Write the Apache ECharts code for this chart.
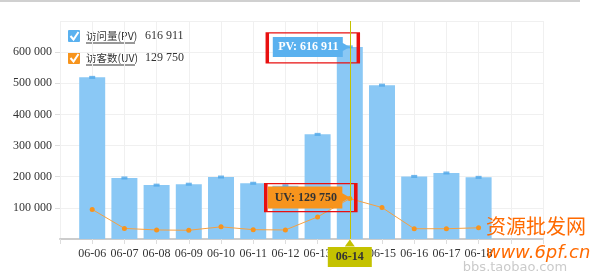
<!DOCTYPE html>
<html><head><meta charset="utf-8">
<script src="https://cdn.jsdelivr.net/npm/echarts@6/dist/echarts.min.js"></script>
<style>html,body{margin:0;padding:0;background:#fff}#c{width:600px;height:275px}</style>
</head><body><div id="c"></div>
<script>
var categories = ['06-06','06-07','06-08','06-09','06-10','06-11','06-12','06-13','06-14','06-15','06-16','06-17','06-18'];
var pvValues = [519000, 196000, 173000, 176000, 199000, 179000, 171000, 336000, 616911, 494000, 201000, 212000, 198000];
var uvValues = [95000, 34000, 29000, 28000, 39000, 30000, 29000, 71000, 129750, 101000, 33000, 33000, 36000];
var yTicks = [0, 100000, 200000, 300000, 400000, 500000, 600000, 700000];
var pvName = '访问量(PV)';
var uvName = '访客数(UV)';
var selected = '06-14';

function fmt(n){ return String(n).replace(/\B(?=(\d{3})+(?!\d))/g, ' '); }
var selIdx = categories.indexOf(selected);
var axisData = [''].concat(categories, ['', '']);
var FONT = '"Liberation Serif", "DejaVu Serif", serif';

var chart = echarts.init(document.getElementById('c'), null, {renderer:'canvas'});

var tagPath = 'path://M0,0 L70,0 L70,6 L77,10 L70,14 L70,20 L0,20 Z';

function legendRow(y, color, name, value){
  return [
    {type:'rect', shape:{x:68,y:y-6,width:12,height:12,r:1}, style:{fill:color}},
    {type:'polyline', shape:{points:[[70.5,y],[73.5,y+3.5],[78.5,y-4]]}, style:{stroke:'#fff', lineWidth:2, fill:null}},
    {type:'text', style:{x:86, y:y, text:name, fill:'#333', fontSize:10.5, fontFamily:'"Noto Sans CJK SC", sans-serif', verticalAlign:'middle'}},
    {type:'line', shape:{x1:86,y1:y+7,x2:135,y2:y+7}, style:{stroke:'#333', lineWidth:1}},
    {type:'text', style:{x:145, y:y, text:fmt(value), fill:'#333', fontSize:12, fontFamily:FONT, verticalAlign:'middle'}}
  ];
}

var graphics = [].concat(
  [{type:'line', shape:{x1:0,y1:1,x2:580,y2:1}, style:{stroke:'#d0d0d0', lineWidth:2}}],
  legendRow(36, '#5ab1ef', pvName, pvValues[selIdx]),
  legendRow(58, '#f7941d', uvName, uvValues[selIdx]),
  [
    {type:'text', z:100, style:{x:515, y:268, text:'bbs.taobao.com', fill:'rgba(180,180,180,0.7)', fontSize:13, fontFamily:'"DejaVu Sans", sans-serif', align:'center', verticalAlign:'middle'}},
    {type:'text', z:100, style:{x:536, y:226, text:'资源批发网', fill:'#ff6a00', fontSize:20, fontFamily:'"Noto Sans CJK SC", sans-serif', align:'center', verticalAlign:'middle'}},
    {type:'text', z:100, style:{x:538, y:253, text:'www.6pf.cn', fill:'#ff6a00', fontSize:18, fontStyle:'italic', fontFamily:'"DejaVu Sans", sans-serif', align:'center', verticalAlign:'middle'}}
  ]
);

chart.setOption({
  animation:false,
  textStyle:{fontFamily:FONT},
  grid:{left:60, right:57, top:21, bottom:36},
  graphic:graphics,
  xAxis:{
    type:'category', data:axisData, boundaryGap:false,
    axisLine:{show:true, lineStyle:{color:'#cccccc', width:2}},
    axisTick:{show:true, length:5, lineStyle:{color:'#dddddd'}},
    axisLabel:{color:'#333', fontSize:12, fontFamily:FONT, margin:9, interval:0},
    splitLine:{show:true, lineStyle:{color:'#f0f0f0'}},
    axisPointer:{
      show:true, value:selected, status:'show', type:'line', snap:true, triggerTooltip:false,
      lineStyle:{color:'#c4c200', width:1, type:'solid'},
      label:{show:true, backgroundColor:'#c4c200', color:'#333', fontFamily:FONT, fontSize:12, fontWeight:'bold', padding:[4,8,4,8], margin:8, borderRadius:0}
    }
  },
  yAxis:{
    type:'value', min:yTicks[0], max:yTicks[yTicks.length-1], interval:yTicks[1]-yTicks[0],
    axisLine:{show:false},
    axisTick:{show:true, length:5, lineStyle:{color:'#dddddd'}},
    axisLabel:{color:'#333', fontSize:12, fontFamily:FONT, margin:8, showMaxLabel:false, showMinLabel:false, formatter:function(v){return fmt(v);}},
    splitLine:{show:true, lineStyle:{color:'#f0f0f0'}}
  },
  series:[
    {
      name:pvName, type:'bar', data:[null].concat(pvValues), barWidth:26,
      itemStyle:{color:'#8ac8f5'}, z:2
    },
    {
      name:pvName + ' ', type:'scatter', data:[null].concat(pvValues), symbol:'rect', symbolSize:[6,3],
      itemStyle:{color:'#4ea6e8'}, z:3, silent:true
    },
    {
      name:uvName, type:'line', data:[null].concat(uvValues), symbol:'circle', symbolSize:5, showSymbol:true,
      lineStyle:{color:'#f7a040', width:1}, itemStyle:{color:'#f7941d'}, z:4,
      markPoint:{
        silent:true,
        data:[
          {coord:[selected, 0], symbol:'triangle', symbolSize:[10,7], symbolOffset:[0,4], itemStyle:{color:'#c4c200'}, label:{show:false}},
          {coord:[selected, pvValues[selIdx]], symbol:'rect', symbolSize:[91,30], symbolOffset:[-37,1],
            itemStyle:{color:'rgba(0,0,0,0)', borderColor:'#e81010', borderWidth:2}, label:{show:false}},
          {coord:[selected, pvValues[selIdx]], symbol:tagPath, symbolKeepAspect:false, symbolSize:[77,20], symbolOffset:[-38.5,0],
            itemStyle:{color:'#5ab1ef'},
            label:{show:true, position:'inside', offset:[-3,0], formatter:'PV: ' + fmt(pvValues[selIdx]), color:'#fff', fontWeight:'bold', fontSize:12, fontFamily:FONT}},
          {coord:[selected, uvValues[selIdx]], symbol:'rect', symbolSize:[90,28], symbolOffset:[-39,-1],
            itemStyle:{color:'rgba(0,0,0,0)', borderColor:'#e81010', borderWidth:2}, label:{show:false}},
          {coord:[selected, uvValues[selIdx]], symbol:tagPath, symbolKeepAspect:false, symbolSize:[82,22], symbolOffset:[-41,-1],
            itemStyle:{color:'#f7941d'},
            label:{show:true, position:'inside', offset:[-3,0], formatter:'UV: ' + fmt(uvValues[selIdx]), color:'#333', fontWeight:'bold', fontSize:12, fontFamily:FONT}}
        ]
      }
    }
  ]
});
</script></body></html>
